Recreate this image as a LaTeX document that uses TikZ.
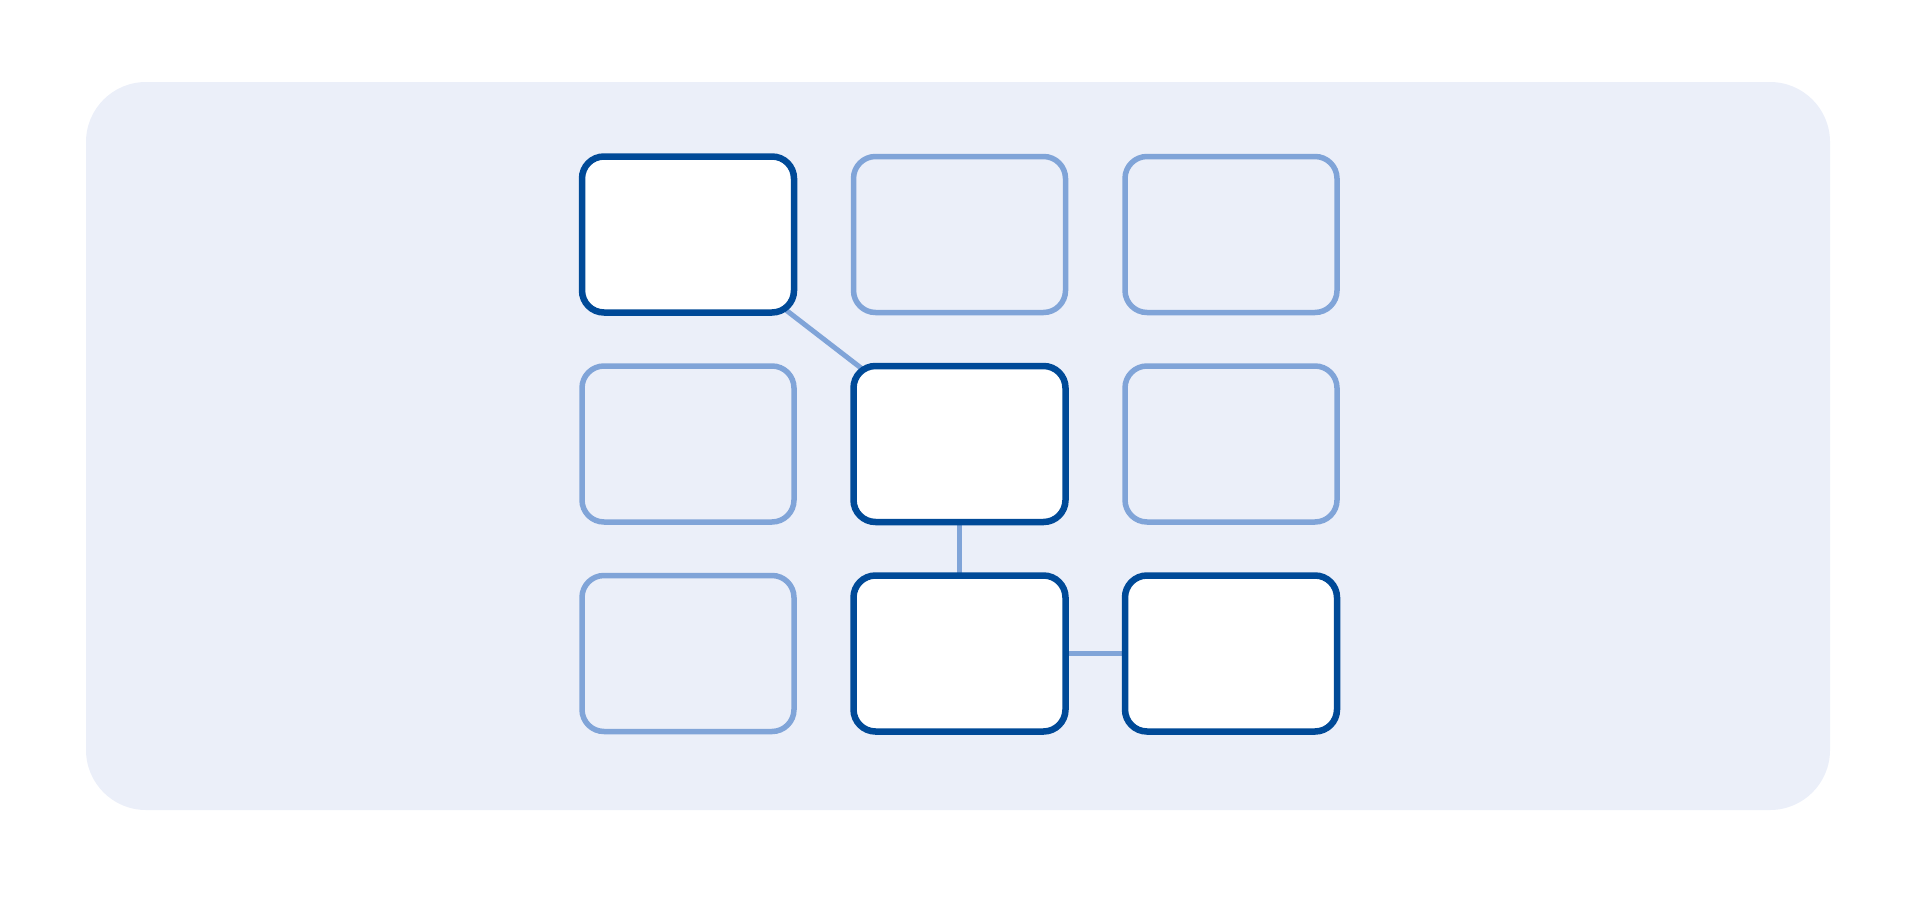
\documentclass[tikz,border=0pt]{standalone}
\usepackage{xcolor}
\usepackage{tikz}
\usetikzlibrary{positioning}
\definecolor{paneblue}{RGB}{235,239,249}
\definecolor{darkblue}{RGB}{0,74,152}
\definecolor{softblue}{RGB}{128,164,216}
\pgfdeclarelayer{background}
\pgfsetlayers{background,main}
\begin{document}
\begin{tikzpicture}[x=1pt,y=-1pt,node distance=53.5pt and 59.5pt,
    every node/.style={shape=rectangle,rounded corners=22pt,minimum width=212pt,minimum height=156pt,inner sep=0pt,outer sep=0pt},
    picked/.style={draw=darkblue,line width=6.5pt,fill=white},
    idle/.style={draw=softblue,line width=5.5pt},
    link/.style={draw=softblue,line width=5pt}]
    \useasboundingbox (0,0) rectangle (1918,897);
    \begin{pgfonlayer}{background}
        \fill[paneblue,rounded corners=60pt] (86,82) rectangle (1830,810);
    \end{pgfonlayer}
    \node[picked] (r1c1) at (688,234.5) {};
    \node[idle,right=of r1c1] (r1c2) {};
    \node[idle,right=of r1c2] (r1c3) {};
    \node[idle,below=of r1c1] (r2c1) {};
    \node[picked,right=of r2c1] (r2c2) {};
    \node[idle,right=of r2c2] (r2c3) {};
    \node[idle,below=of r2c1] (r3c1) {};
    \node[picked,right=of r3c1] (r3c2) {};
    \node[picked,right=of r3c2] (r3c3) {};
    \begin{pgfonlayer}{background}
        \draw[link] (r1c1.center) -- (r2c2.center);
        \draw[link] (r2c2.center) -- (r3c2.center);
        \draw[link] (r3c2.center) -- (r3c3.center);
    \end{pgfonlayer}
\end{tikzpicture}
\end{document}
